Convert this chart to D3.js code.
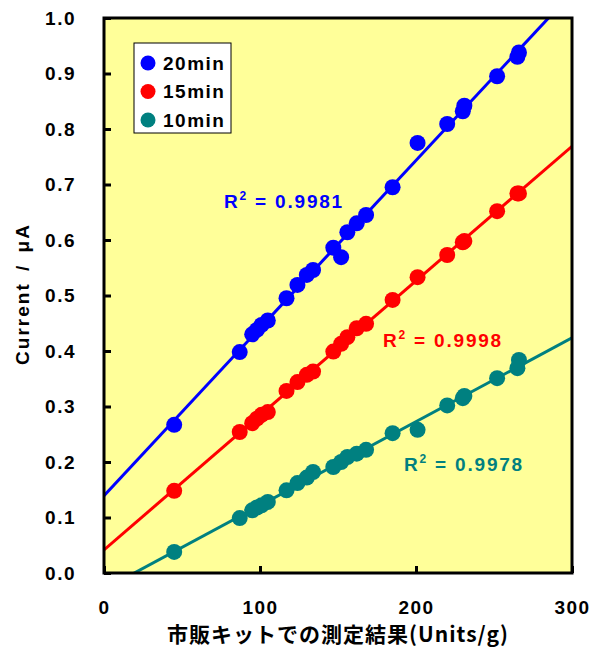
<!DOCTYPE html>
<html>
<head>
<meta charset="utf-8">
<script src="https://cdn.jsdelivr.net/npm/d3@7"></script>
<style>
  body { margin: 0; background: #fff; }
  text { font-family: "Liberation Sans", Arial, sans-serif; font-weight: bold; }
</style>
</head>
<body>
<script>
// market kit result (Units/g), shared by all three series
let kitValues = [45, 87, 95, 98, 101, 105, 117, 124, 130, 134, 147, 152, 156, 162, 168, 185, 201, 220, 230, 231, 252, 265, 266];

let current20 = [0.267, 0.398, 0.430, 0.438, 0.447, 0.455, 0.495, 0.519, 0.537, 0.546, 0.586, 0.569, 0.614, 0.630, 0.645, 0.695, 0.775, 0.809, 0.832, 0.842, 0.895, 0.930, 0.938];
let current15 = [0.148, 0.254, 0.270, 0.278, 0.285, 0.290, 0.328, 0.344, 0.357, 0.363, 0.399, 0.413, 0.425, 0.441, 0.449, 0.492, 0.533, 0.573, 0.596, 0.598, 0.652, 0.684, 0.684];
let current10 = [0.038, 0.099, 0.113, 0.118, 0.122, 0.128, 0.149, 0.162, 0.172, 0.182, 0.191, 0.200, 0.209, 0.215, 0.222, 0.252, 0.258, 0.302, 0.315, 0.319, 0.351, 0.369, 0.384];

let seriesNames = ["20min", "15min", "10min"];
let seriesColors = ["#0000ff", "#ff0000", "#008080"];
let r2Labels = ["0.9981", "0.9998", "0.9978"];

let xTicks = [0, 100, 200, 300];
let yTicks = [0, 0.1, 0.2, 0.3, 0.4, 0.5, 0.6, 0.7, 0.8, 0.9, 1.0];

let width = 601,
    height = 650,
    margin = {top: 18, right: 29, bottom: 77, left: 104};

let x = d3.scaleLinear().domain([0, 300]).range([margin.left, width - margin.right]);
let y = d3.scaleLinear().domain([0, 1]).range([height - margin.bottom, margin.top]);

let svg = d3.select("body").append("svg")
    .attr("width", width)
    .attr("height", height);

svg.append("defs").append("clipPath").attr("id", "plot")
    .append("rect")
    .attr("x", x(0)).attr("y", y(1))
    .attr("width", x(300) - x(0)).attr("height", y(0) - y(1));

svg.append("rect")
    .attr("x", x(0)).attr("y", y(1))
    .attr("width", x(300) - x(0)).attr("height", y(0) - y(1))
    .attr("fill", "#ffff99");

function fit(xs, ys) {
    let mx = d3.mean(xs), my = d3.mean(ys);
    let sxy = d3.sum(xs, (v, i) => (v - mx) * (ys[i] - my));
    let sxx = d3.sum(xs, v => (v - mx) * (v - mx));
    let slope = sxy / sxx;
    return {slope: slope, intercept: my - slope * mx};
}

let series = [current20, current15, current10].map(function(vals, i) {
    return {
        name: seriesNames[i],
        color: seriesColors[i],
        r2: r2Labels[i],
        points: kitValues.map((k, j) => ({x: k, y: vals[j]})),
        fit: fit(kitValues, vals)
    };
});

let plot = svg.append("g").attr("clip-path", "url(#plot)");

series.forEach(function(s) {
    let line = d3.line().x(d => x(d)).y(d => y(s.fit.intercept + s.fit.slope * d));
    plot.append("path")
        .attr("d", line([0, 300]))
        .attr("fill", "none")
        .attr("stroke", s.color)
        .attr("stroke-width", 3);

    plot.selectAll(null)
        .data(s.points)
        .enter().append("circle")
        .attr("cx", d => x(d.x))
        .attr("cy", d => y(d.y))
        .attr("r", 8)
        .attr("fill", s.color);
});

// R^2 labels
let r2Pos = [[224, 208], [383, 347], [404, 471]];
series.forEach(function(s, i) {
    let t = svg.append("text")
        .attr("x", r2Pos[i][0])
        .attr("y", r2Pos[i][1])
        .attr("fill", s.color)
        .style("font-size", "19px")
        .style("letter-spacing", "1.8px");
    t.append("tspan").text("R");
    t.append("tspan").attr("dy", -8).style("font-size", "12px").text("2");
    t.append("tspan").attr("dy", 8).text(" = " + s.r2);
});

// axes: ticks inside
svg.append("g")
    .attr("transform", "translate(0," + y(0) + ")")
    .call(d3.axisBottom(x).tickValues(xTicks).tickSize(-7).tickPadding(28).tickFormat(d3.format("d")))
    .call(g => g.select(".domain").remove())
    .call(g => g.selectAll("line").attr("stroke-width", 3))
    .call(g => g.selectAll("text").style("font-size", "19px").style("letter-spacing", "1.5px").attr("fill", "#000"));

svg.append("g")
    .attr("transform", "translate(" + x(0) + ",0)")
    .call(d3.axisLeft(y).tickValues(yTicks).tickSize(-7).tickPadding(28).tickFormat(d3.format(".1f")))
    .call(g => g.select(".domain").remove())
    .call(g => g.selectAll("line").attr("stroke-width", 3))
    .call(g => g.selectAll("text").style("font-size", "19px").style("letter-spacing", "1.5px").attr("fill", "#000"));

svg.append("rect")
    .attr("x", x(0)).attr("y", y(1))
    .attr("width", x(300) - x(0)).attr("height", y(0) - y(1))
    .attr("fill", "none")
    .attr("stroke", "#000")
    .attr("stroke-width", 3);

// legend
let legend = svg.append("g").attr("transform", "translate(134,43)");
legend.append("rect")
    .attr("width", 97).attr("height", 90)
    .attr("fill", "#fff")
    .attr("stroke", "#000")
    .attr("stroke-width", 1);
series.forEach(function(s, i) {
    legend.append("circle")
        .attr("cx", 14).attr("cy", 20 + i * 28.5)
        .attr("r", 7.5)
        .attr("fill", s.color);
    legend.append("text")
        .attr("x", 29).attr("y", 20 + i * 28.5)
        .attr("dy", "0.36em")
        .style("font-size", "19px")
        .style("letter-spacing", "1.5px")
        .text(s.name);
});

// axis titles
svg.append("text")
    .attr("x", 338).attr("y", 642)
    .attr("text-anchor", "middle")
    .style("font-family", "'Noto Sans CJK JP', sans-serif")
    .style("font-size", "21px")
    .style("letter-spacing", "1px")
    .text("市販キットでの測定結果(Units/g)");

svg.append("text")
    .attr("transform", "translate(29,294) rotate(-90)")
    .attr("text-anchor", "middle")
    .style("font-size", "19px")
    .style("letter-spacing", "2px")
    .style("word-spacing", "4px")
    .text("Current / μA");
</script>
</body>
</html>
